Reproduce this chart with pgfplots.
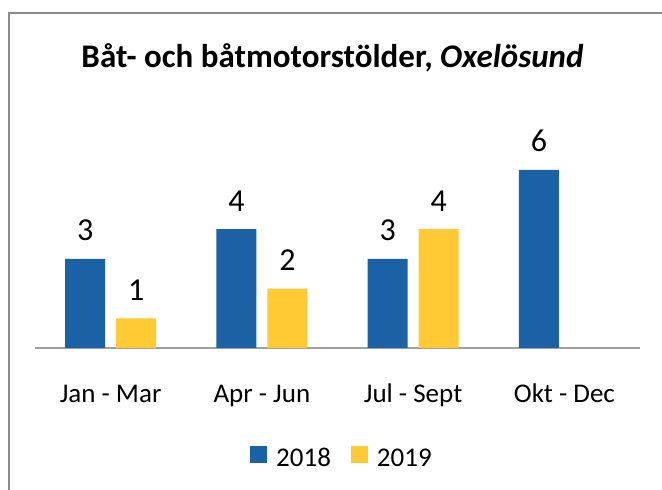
\documentclass[border=0pt]{standalone}
\usepackage{fontspec}
\setmainfont{Carlito}
\usepackage{pgfplots}
\pgfplotsset{compat=1.18}
\definecolor{b18}{HTML}{1A61A6}
\definecolor{y19}{HTML}{FFCA33}
\definecolor{axgray}{HTML}{A0A0A0}
\definecolor{bordergray}{HTML}{8C8C8C}
\newcommand{\lblfont}{\fontsize{27}{32}\selectfont}
\newcommand{\numfont}{\fontsize{32}{38}\selectfont}
\begin{document}
\begin{tikzpicture}[x=1pt,y=1pt]
\useasboundingbox (0,0) rectangle (662,490);
\draw[draw=bordergray, line width=2pt] (9,0) -- (9,477) -- (663,477);
\node[anchor=base, font=\fontsize{33}{38}\selectfont\bfseries] at (332.5,422) {Båt- och båtmotorstölder, \textit{Oxelösund}};
\begin{axis}[
  ybar, bar width=40pt,
  at={(35pt,142pt)}, anchor=south west,
  scale only axis, width=605pt, height=178.2pt,
  xmin=-0.5, xmax=3.5, ymin=0, ymax=6,
  axis line style={draw=none},
  clip=false,
  /pgf/number format/assume math mode=true,
  xtick={0,1,2,3},
  xticklabels={Jan - Mar, Apr - Jun, Jul - Sept, Okt - Dec},
  ytick=\empty,
  major tick length=0pt,
  xticklabel style={anchor=base, yshift=-55pt, font=\lblfont, text=black},
  legend columns=2,
  legend style={draw=none, fill=none, at={(0.5074,-0.62)}, anchor=center, font=\lblfont,
    /tikz/every odd column/.append style={column sep=7pt},
    /tikz/every even column/.append style={column sep=18pt}},
  legend image code/.code={\fill[#1] (0pt,-5pt) rectangle (17pt,12pt);},
  nodes near coords,
  every node near coord/.append style={anchor=base, yshift=18pt, font=\numfont, text=black},
]
\draw[draw=axgray, line width=2pt] (axis cs:-0.5,0) -- (axis cs:3.5,0);
\addplot[bar shift=-25.5pt, fill=b18, draw=none]
  coordinates {(0,3) (1,4) (2,3) (3,6)};
\addlegendentry{2018}
\addplot[bar shift=25.5pt, fill=y19, draw=none]
  coordinates {(0,1) (1,2) (2,4)};
\addlegendentry{2019}
\end{axis}
\end{tikzpicture}
\end{document}
